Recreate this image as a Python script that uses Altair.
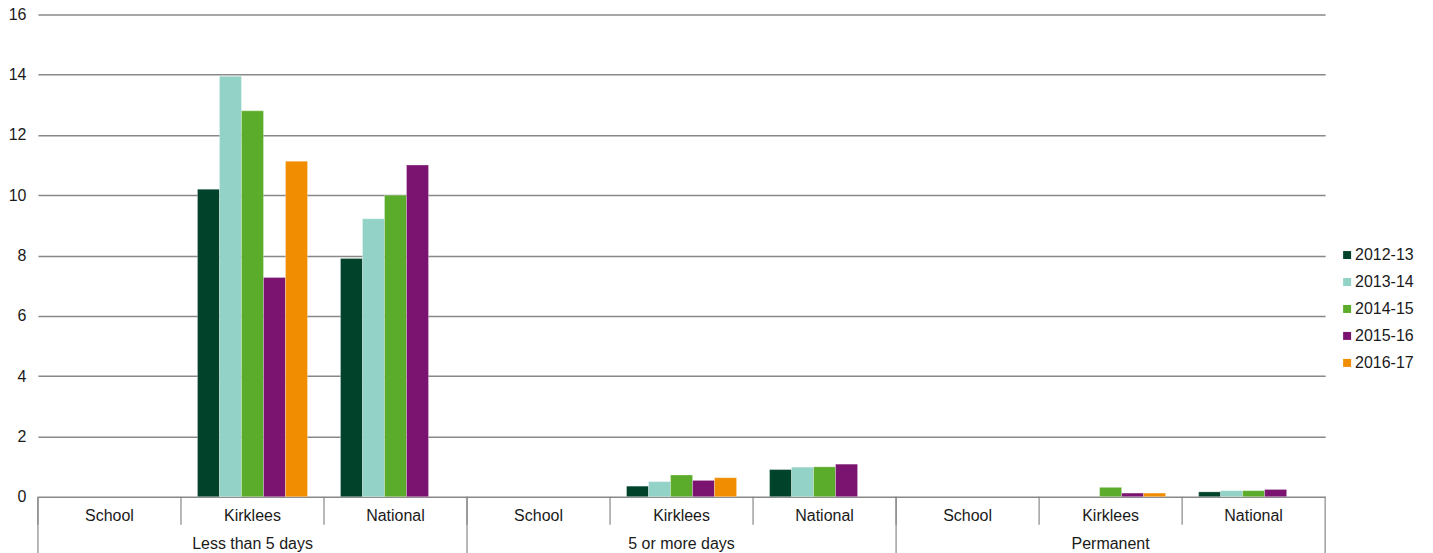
import altair as alt
import pandas as pd

groups = ["Less than 5 days", "5 or more days", "Permanent"]
areas = ["School", "Kirklees", "National"]
years = ["2012-13", "2013-14", "2014-15", "2015-16", "2016-17"]
colors = ["#00432a", "#93d2c6", "#5cac2b", "#7b1470", "#f18d00"]

# values per year, ordered group by group: School, Kirklees, National (None = no bar)
v_2012_13 = [None, 10.2, 7.9, None, 0.35, 0.9, None, None, 0.16]
v_2013_14 = [None, 13.95, 9.22, None, 0.5, 0.98, None, None, 0.2]
v_2014_15 = [None, 12.8, 10.0, None, 0.72, 0.99, None, 0.31, 0.2]
v_2015_16 = [None, 7.27, 11.0, None, 0.54, 1.08, None, 0.12, 0.24]
v_2016_17 = [None, 11.13, None, None, 0.63, None, None, 0.12, None]
series = [v_2012_13, v_2013_14, v_2014_15, v_2015_16, v_2016_17]

keys = [f"{g}|{a}" for g in groups for a in areas]

rows = []
for yr, vals in zip(years, series):
    for k, v in zip(keys, vals):
        if v is not None:
            rows.append({"key": k, "year": yr, "value": v})
bars_df = pd.DataFrame(rows)

cats_df = pd.DataFrame({"key": keys, "area": [a for g in groups for a in areas],
                        "group": [g for g in groups for a in areas]})
outer_df = pd.DataFrame({"key": [f"{g}|{areas[1]}" for g in groups], "group": groups})
starts_df = pd.DataFrame({"key": [f"{g}|{areas[0]}" for g in groups]})
end_df = pd.DataFrame({"key": [keys[-1]]})

W, H = 1289, 483
FONT = "Liberation Sans"
FS = 16
GRID = "#888888"
TXT = "#1a1a1a"

xscale = alt.Scale(domain=keys, paddingInner=0, paddingOuter=0)

bars = alt.Chart(bars_df).mark_bar(stroke="white", strokeOpacity=0.35, strokeWidth=0.8).encode(
    x=alt.X("key:N", scale=xscale, axis=None, sort=keys),
    xOffset=alt.XOffset("year:N", scale=alt.Scale(domain=years, paddingInner=0, paddingOuter=0.75)),
    y=alt.Y("value:Q", scale=alt.Scale(domain=[0, 16], nice=False),
            axis=alt.Axis(values=list(range(0, 17, 2)), title=None, domain=False, ticks=False,
                          labelPadding=12, labelFontSize=FS, labelFont=FONT, labelColor=TXT,
                          gridColor=GRID, gridWidth=1.5)),
    color=alt.Color("year:N", scale=alt.Scale(domain=years, range=colors),
                    legend=alt.Legend(title=None, orient="none", legendX=1303, legendY=233,
                                      symbolType="square", symbolSize=64, symbolStrokeWidth=0,
                                      labelFontSize=FS, labelFont=FONT, labelColor=TXT,
                                      rowPadding=11, labelOffset=0)),
)

inner_rules = alt.Chart(cats_df).mark_rule(color=GRID, strokeWidth=1.2).encode(
    x=alt.X("key:N", scale=xscale, bandPosition=0, sort=keys),
    y=alt.value(H), y2=alt.value(H + 28),
)
outer_rules = alt.Chart(starts_df).mark_rule(color=GRID, strokeWidth=1.2).encode(
    x=alt.X("key:N", scale=xscale, bandPosition=0, sort=keys),
    y=alt.value(H), y2=alt.value(H + 70),
)
end_rule = alt.Chart(end_df).mark_rule(color=GRID, strokeWidth=1.2).encode(
    x=alt.X("key:N", scale=xscale, bandPosition=1, sort=keys),
    y=alt.value(H), y2=alt.value(H + 70),
)
inner_text = alt.Chart(cats_df).mark_text(font=FONT, fontSize=FS, color=TXT, baseline="middle").encode(
    x=alt.X("key:N", scale=xscale, sort=keys),
    y=alt.value(H + 19),
    text="area:N",
)
outer_text = alt.Chart(outer_df).mark_text(font=FONT, fontSize=FS, color=TXT, baseline="middle").encode(
    x=alt.X("key:N", scale=xscale, sort=keys),
    y=alt.value(H + 47),
    text="group:N",
)

chart = alt.layer(bars, inner_rules, outer_rules, end_rule, inner_text, outer_text).properties(
    width=W, height=H,
    autosize=alt.AutoSizeParams(type="none"),
    padding={"left": 30, "top": 6, "right": 100, "bottom": 60},
    background="white",
).configure_view(stroke=None)

chart.save("out.html", embed_options={"renderer": "svg", "actions": False})
